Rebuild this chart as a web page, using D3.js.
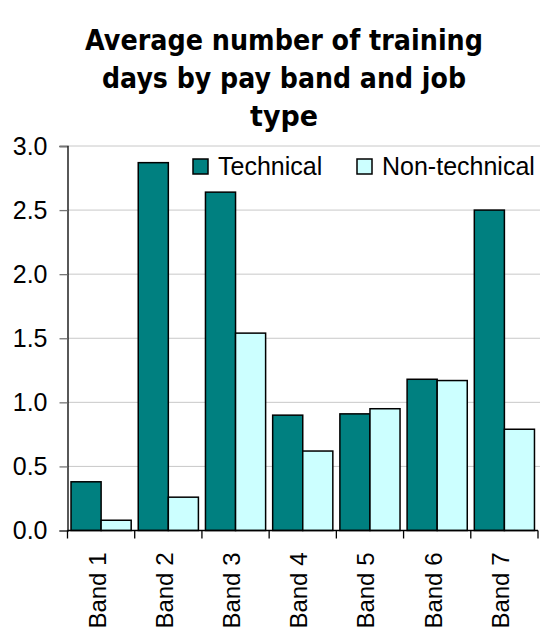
<!DOCTYPE html>
<html>
<head>
<meta charset="utf-8">
<script src="https://cdn.jsdelivr.net/npm/d3@7"></script>
<style>
  html, body { margin: 0; padding: 0; background: #ffffff; }
  svg { display: block; }
</style>
</head>
<body>
<svg id="chart" width="540" height="628"></svg>
<script>
const titleLines = ["Average number of training", "days by pay band and job", "type"];
const categories = ["Band 1", "Band 2", "Band 3", "Band 4", "Band 5", "Band 6", "Band 7"];
const seriesNames = ["Technical", "Non-technical"];
const technical = [0.38, 2.87, 2.64, 0.90, 0.91, 1.18, 2.50];
const nonTechnical = [0.08, 0.26, 1.54, 0.62, 0.95, 1.17, 0.79];
const yTicks = [0, 0.5, 1.0, 1.5, 2.0, 2.5, 3.0];
const colors = ["#008080", "#CCFFFF"];

const svg = d3.select("#chart");
const plotLeft = 67.5, plotRight = 538, plotTop = 146, plotBottom = 530.5;

const x = d3.scaleBand().domain(categories).range([plotLeft, plotRight]).paddingInner(0.105).paddingOuter(0.0525);
const xs = d3.scaleBand().domain(seriesNames).range([0, x.bandwidth()]);
const y = d3.scaleLinear().domain([0, 3]).range([plotBottom, plotTop]);

// Title
const titleWidths = [398, 364, 68];
svg.append("g").selectAll("text").data(titleLines).join("text")
  .attr("x", 284).attr("y", (d, i) => 50 + i * 38)
  .attr("text-anchor", "middle")
  .attr("font-family", "'DejaVu Sans', Verdana, sans-serif")
  .attr("font-weight", "bold")
  .attr("font-size", 28)
  .attr("textLength", (d, i) => titleWidths[i])
  .attr("lengthAdjust", "spacingAndGlyphs")
  .attr("fill", "#000")
  .text(d => d);

// gridlines
svg.append("g").selectAll("line").data(yTicks.filter(d => d > 0)).join("line")
  .attr("x1", plotLeft).attr("x2", 540)
  .attr("y1", d => y(d)).attr("y2", d => y(d))
  .attr("stroke", "#c8c8c8").attr("stroke-width", 1);

// y axis
const yAxis = d3.axisLeft(y).tickValues(yTicks).tickFormat(d3.format(".1f")).tickSize(8).tickPadding(12);
const gy = svg.append("g").attr("transform", `translate(${plotLeft},0)`).call(yAxis);
gy.select(".domain").attr("stroke", "#000").attr("stroke-width", 1.3);
gy.selectAll(".tick line").attr("stroke", "#777").attr("stroke-width", 1.3);
gy.selectAll(".tick text").attr("font-family", "'Liberation Sans', Arial, sans-serif")
  .attr("font-size", 25).attr("fill", "#000");

// bars
const groups = svg.append("g").selectAll("g").data(categories).join("g")
  .attr("transform", d => `translate(${x(d)},0)`);
groups.selectAll("rect").data((d, i) => [
    { s: seriesNames[0], v: technical[i], c: colors[0] },
    { s: seriesNames[1], v: nonTechnical[i], c: colors[1] }
  ]).join("rect")
  .attr("x", d => xs(d.s)).attr("width", xs.bandwidth())
  .attr("y", d => y(d.v)).attr("height", d => y(0) - y(d.v))
  .attr("fill", d => d.c).attr("stroke", "#000").attr("stroke-width", 1.5);

// x axis
const step = x.step();
const xAxisG = svg.append("g");
xAxisG.append("line").attr("x1", plotLeft).attr("x2", plotRight).attr("y1", plotBottom).attr("y2", plotBottom)
  .attr("stroke", "#000").attr("stroke-width", 1.3);
xAxisG.selectAll("line.tk").data(d3.range(categories.length + 1)).join("line").attr("class", "tk")
  .attr("x1", i => plotLeft + i * step).attr("x2", i => plotLeft + i * step)
  .attr("y1", plotBottom).attr("y2", plotBottom + 8)
  .attr("stroke", "#000").attr("stroke-width", 1.3);
xAxisG.selectAll("text").data(categories).join("text")
  .attr("transform", d => `translate(${x(d) + x.bandwidth() / 2 - 4},${plotBottom + 22}) rotate(-90)`)
  .attr("text-anchor", "end").attr("dy", "0.35em")
  .attr("font-family", "'Liberation Sans', Arial, sans-serif")
  .attr("font-size", 24).attr("fill", "#000")
  .text(d => d);

// legend
const legendItems = [
  { name: seriesNames[0], c: colors[0], x: 193 },
  { name: seriesNames[1], c: colors[1], x: 357 }
];
const lg = svg.append("g").selectAll("g").data(legendItems).join("g")
  .attr("transform", d => `translate(${d.x},159)`);
lg.append("rect").attr("width", 15).attr("height", 15)
  .attr("fill", d => d.c).attr("stroke", "#000").attr("stroke-width", 1.5);
lg.append("text").attr("x", 25).attr("y", 16)
  .attr("font-family", "'Liberation Sans', Arial, sans-serif")
  .attr("font-size", 25).attr("fill", "#000")
  .text(d => d.name);
</script>
</body>
</html>
